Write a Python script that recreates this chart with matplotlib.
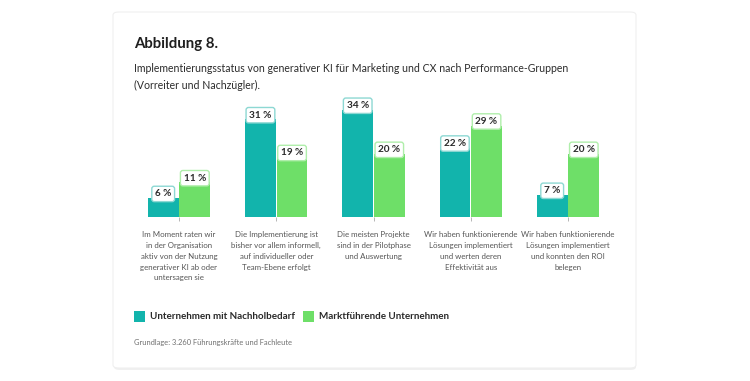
import matplotlib.pyplot as plt
import numpy as np
from matplotlib.patches import FancyBboxPatch, Rectangle

plt.rcParams['font.family'] = ['Lato', 'DejaVu Sans']

categories = [
    'Im Moment raten wir\nin der Organisation\naktiv von der Nutzung\ngenerativer KI ab oder\nuntersagen sie',
    'Die Implementierung ist\nbisher vor allem informell,\nauf individueller oder\nTeam-Ebene erfolgt',
    'Die meisten Projekte\nsind in der Pilotphase\nund Auswertung',
    'Wir haben funktionierende\nLösungen implementiert\nund werten deren\nEffektivität aus',
    'Wir haben funktionierende\nLösungen implementiert\nund konnten den ROI\nbelegen',
]
nachzuegler = [6, 31, 34, 22, 7]
vorreiter = [11, 19, 20, 29, 20]
series_names = ['Unternehmen mit Nachholbedarf', 'Marktführende Unternehmen']

teal = '#12b4ac'
green = '#6edf68'
teal_edge = '#8dd8d3'
green_edge = '#b0eeab'

W, H = 750, 381
fig = plt.figure(figsize=(W / 100, H / 100), dpi=100)
fig.patch.set_facecolor('white')

def fx(px):
    return px / W

def fy(py):
    return 1 - py / H

# card
shadow = FancyBboxPatch((fx(114), fy(370)), fx(636) - fx(114), fy(13) - fy(370),
                        boxstyle='round,pad=0,rounding_size=0.008', transform=fig.transFigure,
                        fc='#f0f0f0', ec='none', zorder=0)
card = FancyBboxPatch((fx(113), fy(368)), fx(636) - fx(113), fy(12) - fy(368),
                      boxstyle='round,pad=0,rounding_size=0.008', transform=fig.transFigure,
                      fc='white', ec='#efefef', lw=0.8, zorder=1)
fig.patches.extend([shadow, card])

fig.text(fx(134), fy(44), 'Abbildung 8.', fontsize=10.8, fontweight='bold', color='#1f1f1f',
         va='center', ha='left')
fig.text(fx(134), fy(77), 'Implementierungsstatus von generativer KI für Marketing und CX nach Performance-Gruppen\n(Vorreiter und Nachzügler).',
         fontsize=7.6, color='#2c2c2c', va='center', ha='left', linespacing=1.75)

# axes: baseline at y=217, category 0 at x=179, spacing 97.25 px
ax_left, ax_right, ax_top, ax_base = 130, 620, 100, 217
ax = fig.add_axes([fx(ax_left), fy(ax_base), fx(ax_right) - fx(ax_left), fy(ax_top) - fy(ax_base)])
ax.set_zorder(2)
ax.patch.set_alpha(0)
step = 97.25
ax.set_xlim((ax_left - 179) / step, (ax_right - 179) / step)
ax.set_ylim(0, (ax_base - ax_top) / 3.15)

x = np.arange(len(categories))
bw = 0.315
ax.bar(x - bw / 2 - 0.005, nachzuegler, bw, color=teal)
ax.bar(x + bw / 2 + 0.005, vorreiter, bw, color=green)

for xs, vals, ec in [(x - bw / 2 - 0.005, nachzuegler, teal_edge), (x + bw / 2 + 0.005, vorreiter, green_edge)]:
    for xi, v in zip(xs, vals):
        ax.annotate(f'{v} %', (xi, v), xytext=(0, 3), textcoords='offset points',
                    ha='center', va='center', fontsize=7.2, fontweight='bold', color='#2a2a2a',
                    bbox=dict(boxstyle='round,pad=0.32,rounding_size=0.25', fc='white', ec=ec, lw=1.0))

for s in ax.spines.values():
    s.set_visible(False)
ax.set_yticks([])
ax.set_xticks(x)
ax.set_xticklabels(categories, fontsize=5.7, color='#555555', linespacing=1.65)
ax.tick_params(axis='x', length=3, width=0.6, color='#aaaaaa', pad=7)

# legend
for lx, name, c in [(134, series_names[0], teal), (303, series_names[1], green)]:
    fig.patches.append(Rectangle((fx(lx), fy(322)), fx(11), fy(311) - fy(322),
                                 transform=fig.transFigure, fc=c, ec='none', zorder=3))
    fig.text(fx(lx + 16), fy(316.5), name, fontsize=7.1, fontweight='bold', color='#2a2a2a',
             va='center', ha='left')

fig.text(fx(134), fy(343), 'Grundlage: 3.260 Führungskräfte und Fachleute', fontsize=5.4,
         color='#707070', va='center', ha='left')

fig.savefig('out.png', dpi=100)
